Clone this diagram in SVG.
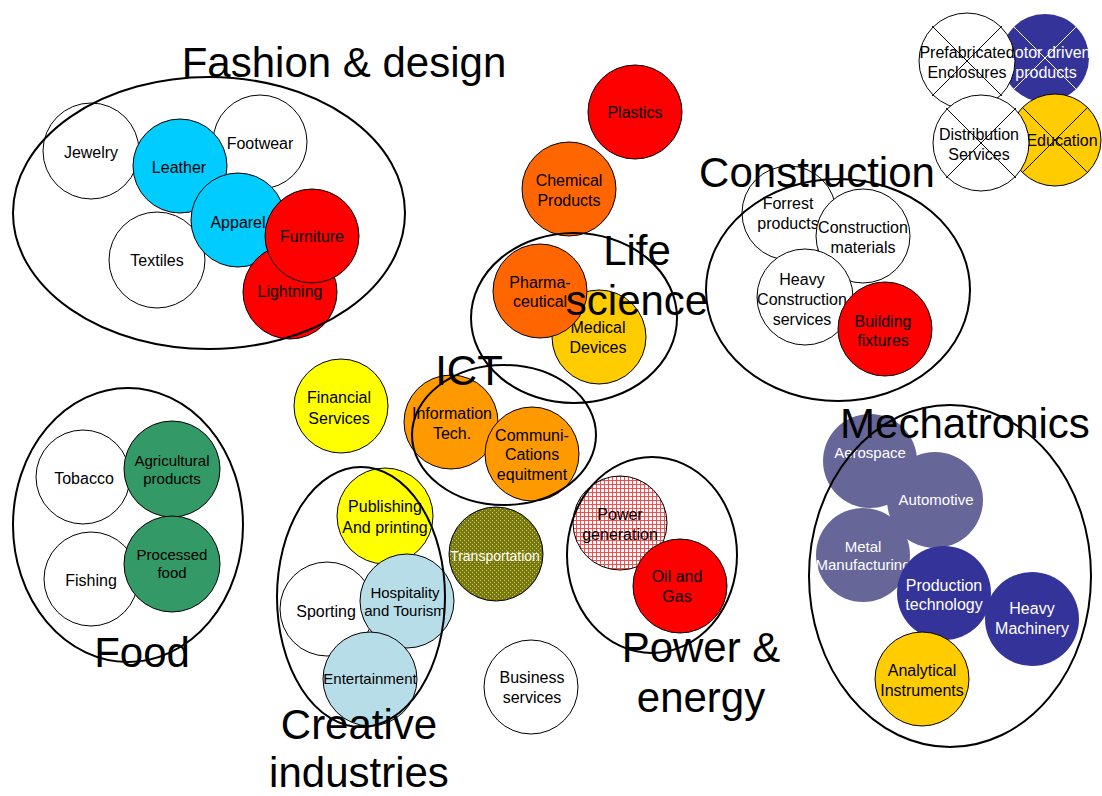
<svg xmlns="http://www.w3.org/2000/svg" width="1102" height="796" viewBox="0 0 1102 796">
<style>
.c{stroke:#000;stroke-width:1}
.n{stroke:none}
.cl{fill:none;stroke:#000;stroke-width:2}
.x{stroke:#000;stroke-width:1}
.xw{stroke:#fff;stroke-width:1}
text{font-family:"Liberation Sans",Arial,Helvetica,sans-serif;font-size:16px;text-anchor:middle;fill:#000}
.s15{font-size:15px}
.s14{font-size:14px}
.w{fill:#fff}
.tt{font-size:42px}
</style>
<defs>
<pattern id="olive" width="4" height="4" patternUnits="userSpaceOnUse"><rect width="4" height="4" fill="#7A7A0A"/><rect x="0" y="0" width="1" height="1" fill="#C4C488"/><rect x="2" y="2" width="1" height="1" fill="#C4C488"/></pattern>
<pattern id="grid" width="4" height="4" patternUnits="userSpaceOnUse"><rect width="4" height="4" fill="#fff"/><path d="M0 0.5H4M0.5 0V4" stroke="#F05050" stroke-width="1"/></pattern>
</defs>
<rect width="1102" height="796" fill="#fff"/>
<g id="connectors"/>

<!-- Fashion & design -->
<g id="jewelry"><circle class="c" cx="91" cy="151" r="48" fill="#fff"/><text x="91" y="158">Jewelry</text></g>
<g id="footwear"><circle class="c" cx="260" cy="142" r="47" fill="#fff"/><text x="260" y="149">Footwear</text></g>
<g id="textiles"><circle class="c" cx="157" cy="260" r="48" fill="#fff"/><text x="157" y="266">Textiles</text></g>
<g id="leather"><circle class="c" cx="180" cy="166" r="47" fill="#00CCFF"/><text x="179" y="173">Leather</text></g>
<g id="apparel"><circle class="c" cx="238" cy="220" r="47" fill="#00CCFF"/><text x="238" y="228">Apparel</text></g>
<g id="lightning"><circle class="c" cx="290" cy="292" r="47" fill="#FF0000"/><text x="290" y="297">Lightning</text></g>
<g id="furniture"><circle class="c" cx="312" cy="236" r="47" fill="#FF0000"/><text x="312" y="242">Furniture</text></g>

<!-- Life science / chemicals -->
<g id="plastics"><circle class="c" cx="635" cy="112" r="47" fill="#FF0000"/><text x="635" y="118">Plastics</text></g>
<g id="chemical-products"><circle class="c" cx="569" cy="189" r="47" fill="#FF6600"/><text x="569" y="186">Chemical</text><text x="569" y="206">Products</text></g>
<g id="medical-devices"><circle class="c" cx="599" cy="337" r="47" fill="#FFCC00"/><text x="598" y="333">Medical</text><text x="598" y="353">Devices</text></g>
<g id="pharmaceutical"><circle class="c" cx="540" cy="291" r="47" fill="#FF6600"/><text x="540" y="288">Pharma-</text><text x="540" y="307">ceutical</text></g>

<!-- ICT -->
<g id="financial-services"><circle class="c" cx="341" cy="406" r="47" fill="#FFFF00"/><text x="339" y="403">Financial</text><text x="339" y="424">Services</text></g>
<g id="information-tech"><circle class="c" cx="451" cy="422" r="47" fill="#FF9900"/><text x="452" y="419">Information</text><text x="452" y="439">Tech.</text></g>
<g id="communications"><circle class="c" cx="532" cy="454" r="47" fill="#FF9900"/><text x="532" y="441">Communi-</text><text x="532" y="460">Cations</text><text x="532" y="480">equitment</text></g>

<!-- Creative industries -->
<g id="sporting"><circle class="c" cx="327" cy="609" r="47" fill="#fff"/><text x="326" y="617">Sporting</text></g>
<g id="publishing"><circle class="c" cx="385" cy="516" r="48" fill="#FFFF00"/><text x="385" y="512">Publishing</text><text x="385" y="533">And printing</text></g>
<g id="hospitality"><circle class="c" cx="407" cy="601" r="47" fill="#B7DEE8"/><text class="s15" x="405" y="598">Hospitality</text><text class="s15" x="405" y="616">and Tourism</text></g>
<g id="entertainment"><circle class="c" cx="370" cy="679" r="47" fill="#B7DEE8"/><text class="s15" x="370" y="684">Entertainment</text></g>

<!-- Transportation / business -->
<g id="transportation"><circle class="c" cx="496" cy="554" r="47" fill="url(#olive)"/><text class="s14 w" x="495" y="561">Transportation</text></g>
<g id="business-services"><circle class="c" cx="531" cy="687" r="47" fill="#fff"/><text x="532" y="683">Business</text><text x="532" y="703">services</text></g>

<!-- Power & energy -->
<g id="power-generation"><circle class="c" cx="620" cy="523" r="47" fill="url(#grid)"/><text x="620" y="520">Power</text><text x="620" y="540">generation</text></g>
<g id="oil-and-gas"><circle class="c" cx="680" cy="586" r="47" fill="#FF0000"/><text x="677" y="582">Oil and</text><text x="677" y="602">Gas</text></g>

<!-- Food -->
<g id="tobacco"><circle class="c" cx="83" cy="477" r="47" fill="#fff"/><text x="84" y="484">Tobacco</text></g>
<g id="agricultural-products"><circle class="c" cx="172" cy="469" r="48" fill="#339966"/><text class="s15" x="172" y="466">Agricultural</text><text class="s15" x="172" y="484">products</text></g>
<g id="fishing"><circle class="c" cx="91" cy="579" r="47" fill="#fff"/><text x="91" y="586">Fishing</text></g>
<g id="processed-food"><circle class="c" cx="172" cy="564" r="48" fill="#339966"/><text class="s15" x="172" y="560">Processed</text><text class="s15" x="172" y="578">food</text></g>

<!-- Construction -->
<g id="forrest-products"><circle class="c" cx="789" cy="213" r="47" fill="#fff"/><text x="788" y="209">Forrest</text><text x="788" y="229">products</text></g>
<g id="construction-materials"><circle class="c" cx="863" cy="236" r="47" fill="#fff"/><text x="863" y="233">Construction</text><text x="863" y="253">materials</text></g>
<g id="heavy-construction"><circle class="c" cx="805" cy="297" r="48" fill="#fff"/><text x="802" y="285">Heavy</text><text x="802" y="305">Construction</text><text x="802" y="325">services</text></g>
<g id="building-fixtures"><circle class="c" cx="885" cy="329" r="47" fill="#FF0000"/><text x="883" y="327">Building</text><text x="883" y="346">fixtures</text></g>

<!-- Mechatronics -->
<g id="aerospace"><circle class="n" cx="870" cy="461" r="47" fill="#666699"/><text class="s15 w" x="870" y="458">Aerospace</text></g>
<g id="automotive"><circle class="n" cx="935" cy="500" r="48" fill="#666699"/><text class="s15 w" x="936" y="505">Automotive</text></g>
<g id="metal-manufacturing"><circle class="n" cx="863" cy="555" r="47" fill="#666699"/><text class="s15 w" x="863" y="552">Metal</text><text class="s15 w" x="863" y="570">Manufacturing</text></g>
<g id="production-technology"><circle class="n" cx="944" cy="593" r="47" fill="#333399"/><text class="w" x="944" y="591">Production</text><text class="w" x="944" y="610">technology</text></g>
<g id="heavy-machinery"><circle class="n" cx="1032" cy="619" r="47" fill="#333399"/><text class="w" x="1032" y="614">Heavy</text><text class="w" x="1032" y="634">Machinery</text></g>
<g id="analytical-instruments"><circle class="c" cx="922" cy="679" r="47" fill="#FFCC00"/><text x="922" y="676">Analytical</text><text x="922" y="696">Instruments</text></g>

<!-- Crossed-out clusters -->
<g id="motor-driven-products"><circle class="n" cx="1045" cy="58" r="44" fill="#333399"/><line class="xw" x1="1013" y1="26" x2="1077" y2="90"/><line class="xw" x1="1077" y1="26" x2="1013" y2="90"/><text class="w" x="1046" y="58">Motor driven</text><text class="w" x="1046" y="78">products</text></g>
<g id="prefabricated-enclosures"><circle class="c" cx="967" cy="61" r="48" fill="#fff"/><line class="x" x1="932" y1="26" x2="1002" y2="96"/><line class="x" x1="1002" y1="26" x2="932" y2="96"/><text x="967" y="58">Prefabricated</text><text x="967" y="78">Enclosures</text></g>
<g id="education"><circle class="c" cx="1055" cy="140" r="46" fill="#FFCC00"/><line class="x" x1="1022" y1="107" x2="1088" y2="173"/><line class="x" x1="1088" y1="107" x2="1022" y2="173"/><text x="1062" y="146">Education</text></g>
<g id="distribution-services"><circle class="c" cx="981" cy="143" r="48" fill="#fff"/><line class="x" x1="946" y1="108" x2="1016" y2="178"/><line class="x" x1="1016" y1="108" x2="946" y2="178"/><text x="979" y="140">Distribution</text><text x="979" y="160">Services</text></g>

<!-- Cluster outlines and titles -->
<g id="cluster-fashion"><ellipse class="cl" cx="209" cy="213" rx="196" ry="136"/><text class="tt" x="344" y="77">Fashion &amp; design</text></g>
<g id="cluster-life-science"><ellipse class="cl" cx="574" cy="318" rx="103" ry="85"/><text class="tt" x="637" y="265">Life</text><text class="tt" x="637" y="315">science</text></g>
<g id="cluster-ict"><ellipse class="cl" cx="504" cy="435" rx="92" ry="70"/><text class="tt" x="469" y="385">ICT</text></g>
<g id="cluster-creative"><ellipse class="cl" cx="361" cy="597" rx="84" ry="130"/><text class="tt" x="359" y="739">Creative</text><text class="tt" x="359" y="787">industries</text></g>
<g id="cluster-power"><ellipse class="cl" cx="652" cy="555" rx="85" ry="98"/><text class="tt" x="701" y="662">Power &amp;</text><text class="tt" x="701" y="712">energy</text></g>
<g id="cluster-food"><ellipse class="cl" cx="128" cy="525" rx="115" ry="137"/><text class="tt" x="142" y="667">Food</text></g>
<g id="cluster-construction"><ellipse class="cl" cx="838" cy="290" rx="132" ry="111"/><text class="tt" x="817" y="187">Construction</text></g>
<g id="cluster-mechatronics"><ellipse class="cl" cx="950" cy="576" rx="141" ry="171"/><text class="tt" x="965" y="438">Mechatronics</text></g>
</svg>
